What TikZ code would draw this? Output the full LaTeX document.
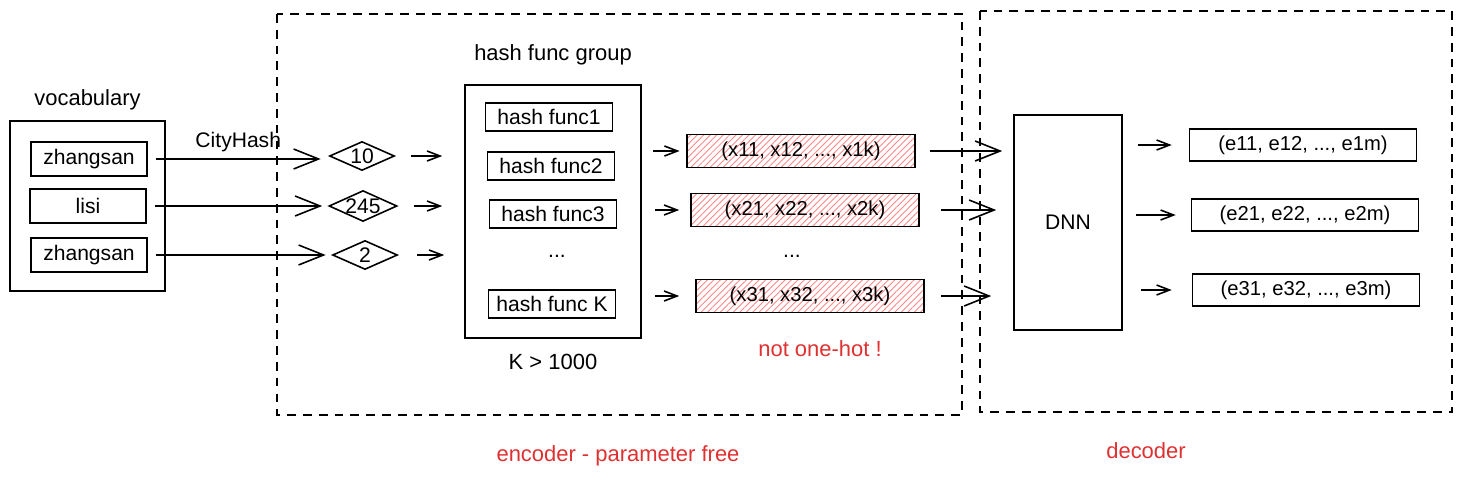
\documentclass[tikz,border=0pt]{standalone}
\usepackage{fontspec}
\setmainfont{Liberation Sans}
\usepackage{tikz}
\usetikzlibrary{positioning, shapes.geometric, arrows.meta, patterns.meta}
\usepackage{xcolor}
\definecolor{notered}{HTML}{E03131}
\definecolor{hatchred}{HTML}{FF8787}

\begin{document}
\begin{tikzpicture}[
    x=0.02cm, y=-0.02cm,
    font=\fontsize{12}{14}\selectfont,
    box/.style={rectangle, draw, line width=0.9pt, text centered, inner sep=2pt},
    item/.style={box, minimum width=2.32cm, minimum height=0.68cm},
    hashbox/.style={box, minimum width=2.54cm, minimum height=0.56cm},
    vecbox/.style={box, font=\fontsize{11.5}{14}\selectfont, pattern={Lines[angle=45, distance=2.6pt, line width=0.5pt]}, pattern color=hatchred, minimum width=4.56cm, minimum height=0.66cm},
    outbox/.style={box, font=\fontsize{11.5}{14}\selectfont, minimum width=4.54cm, minimum height=0.64cm},
    hashval/.style={diamond, draw, line width=0.9pt, aspect=2.2, inner sep=0pt, minimum width=1.3cm, minimum height=0.58cm},
    region/.style={draw, dash pattern=on 5pt off 4pt, line width=0.8pt},
    title/.style={font=\fontsize{12.5}{15}\selectfont},
    redtext/.style={title, text=notered},
    bigarrow/.style={-{Straight Barb[length=0.5cm, width=0.4cm]}, line width=0.9pt},
    smallarrow/.style={-{Straight Barb[length=0.26cm, width=0.2cm]}, line width=0.9pt}
]
    \fill[white] (0,0) rectangle (1462,477);
    \useasboundingbox (0,0) rectangle (1462,477);

    % encoder and decoder regions
    \draw[region] (277,14) rectangle (962,415);
    \draw[region] (980,11) rectangle (1452,412);

    % vocabulary
    \node[box, minimum width=3.1cm, minimum height=3.4cm] (vocab) at (87.5,206) {};
    \node[title, above=0.08cm of vocab] (vocabtitle) {vocabulary};
    \node[item] (w1) at (89,159) {zhangsan};
    \node[item] (w2) at (88,206) {lisi};
    \node[item] (w3) at (89,255) {zhangsan};

    % hash values
    \node[hashval] (h1) at (362,156) {10};
    \node[hashval] (h2) at (363,206) {245};
    \node[hashval] (h3) at (365,255) {2};

    % hash func group
    \node[box, minimum width=3.52cm, minimum height=5.06cm] (grp) at (553,211.5) {};
    \node[title, above=0.26cm of grp] (grptitle) {hash func group};
    \node[hashbox] (f1) at (549,117) {hash func1};
    \node[hashbox] (f2) at (551,166) {hash func2};
    \node[hashbox] (f3) at (553,214) {hash func3};
    \node (fdots) at (557,256) {...};
    \node[hashbox] (fk) at (552,304) {hash func K};
    \node[title, below=0.18cm of grp] (kcount) {K > 1000};

    % hashed vectors
    \node[vecbox] (v1) at (801,151) {(x11, x12, ..., x1k)};
    \node[vecbox] (v2) at (805,210) {(x21, x22, ..., x2k)};
    \node (vdots) at (792,256) {...};
    \node[vecbox] (v3) at (810,296) {(x31, x32, ..., x3k)};
    \node[redtext, below=0.42cm of v3, xshift=0.2cm] (onehot) {not one-hot !};

    % decoder
    \node[box, minimum width=2.16cm, minimum height=4.3cm] (dnn) at (1068,222.5) {DNN};
    \node[outbox] (e1) at (1303,145) {(e11, e12, ..., e1m)};
    \node[outbox] (e2) at (1305,215) {(e21, e22, ..., e2m)};
    \node[outbox] (e3) at (1306,290) {(e31, e32, ..., e3m)};

    \node[redtext] (enclabel) at (618,456) {encoder - parameter free};
    \node[redtext] (declabel) at (1146,451) {decoder};

    % words to hash values
    \draw[bigarrow, shorten <=0.16cm, shorten >=0.16cm] (w1.east) -- node[above] {CityHash} (w1.east -| h1.west);
    \draw[bigarrow, shorten <=0.16cm, shorten >=0.12cm] (w2.east) -- (w2.east -| h2.west);
    \draw[bigarrow, shorten <=0.16cm, shorten >=0.12cm] (w3.east) -- (w3.east -| h3.west);

    % hash values to group
    \draw[smallarrow, shorten <=0.32cm, shorten >=0.44cm] (h1.east) -- (h1.east -| grp.west);
    \draw[smallarrow, shorten <=0.32cm, shorten >=0.44cm] (h2.east) -- (h2.east -| grp.west);
    \draw[smallarrow, shorten <=0.38cm, shorten >=0.4cm] (h3.east) -- (h3.east -| grp.west);

    % group to vectors
    \draw[smallarrow, shorten <=0.22cm, shorten >=0.14cm] (v1.west -| grp.east) -- (v1.west);
    \draw[smallarrow, shorten <=0.26cm, shorten >=0.22cm] (v2.west -| grp.east) -- (v2.west);
    \draw[smallarrow, shorten <=0.26cm, shorten >=0.32cm] (v3.west -| grp.east) -- (v3.west);

    % vectors to DNN
    \draw[bigarrow, shorten <=0.3cm, shorten >=0.22cm] (v1.east) -- (v1.east -| dnn.west);
    \draw[bigarrow, shorten <=0.42cm, shorten >=0.34cm] (v2.east) -- (v2.east -| dnn.west);
    \draw[bigarrow, shorten <=0.32cm, shorten >=0.44cm] (v3.east) -- (v3.east -| dnn.west);

    % DNN to embeddings
    \draw[smallarrow, shorten <=0.3cm, shorten >=0.34cm] (e1.west -| dnn.east) -- (e1.west);
    \draw[smallarrow, shorten <=0.26cm, shorten >=0.3cm] (e2.west -| dnn.east) -- (e2.west);
    \draw[smallarrow, shorten <=0.36cm, shorten >=0.4cm] (e3.west -| dnn.east) -- (e3.west);
\end{tikzpicture}
\end{document}
